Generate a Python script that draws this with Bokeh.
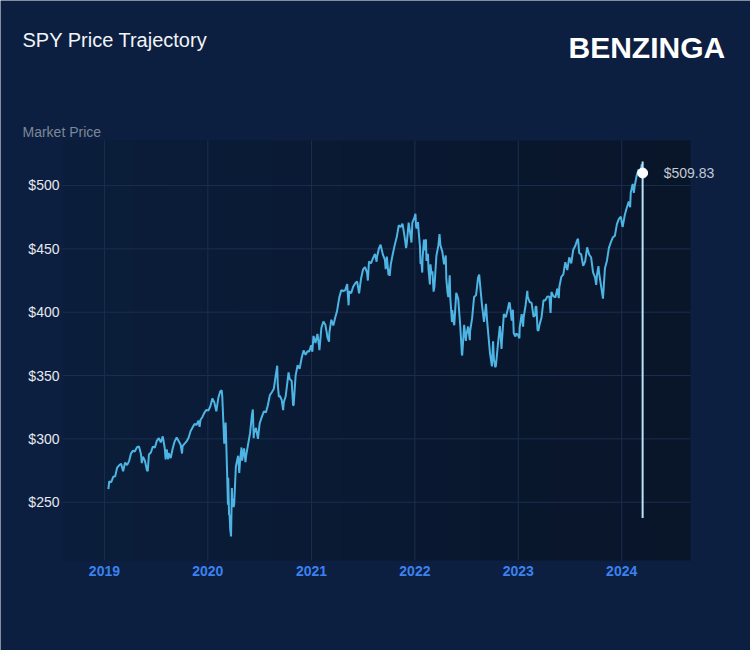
import numpy as np
import pandas as pd
from datetime import datetime
from bokeh.plotting import figure
from bokeh.models import Range1d, Label, ColumnDataSource
from bokeh.core.properties import value
from bokeh.embed import file_html
from bokeh.resources import INLINE

# ---------------- data (SPY closes) ----------------
dates_2019 = ["2019-01-15", "2019-01-18", "2019-01-25", "2019-02-01", "2019-02-08", "2019-02-15", "2019-02-22", "2019-03-01", "2019-03-08", "2019-03-15",
              "2019-03-22", "2019-03-29", "2019-04-05", "2019-04-12", "2019-04-18", "2019-04-26", "2019-05-03", "2019-05-10", "2019-05-13", "2019-05-17",
              "2019-05-24", "2019-05-31", "2019-06-03", "2019-06-07", "2019-06-14", "2019-06-21", "2019-06-28", "2019-07-05", "2019-07-12", "2019-07-19",
              "2019-07-26", "2019-08-02", "2019-08-05", "2019-08-09", "2019-08-14", "2019-08-16", "2019-08-23", "2019-08-30", "2019-09-06", "2019-09-13",
              "2019-09-20", "2019-09-27", "2019-10-02", "2019-10-04", "2019-10-11", "2019-10-18", "2019-10-25", "2019-11-01", "2019-11-08", "2019-11-15",
              "2019-11-22", "2019-11-29", "2019-12-03", "2019-12-06", "2019-12-13", "2019-12-20", "2019-12-27"]
spy_2019 = [260.35, 266.46, 265.78, 270.06, 270.47, 277.37, 279.14, 280.42, 274.46, 281.31,
            279.25, 282.48, 288.57, 290.72, 290.02, 293.41, 294.03, 288.10, 280.86, 285.84,
            282.78, 275.27, 274.57, 287.65, 289.26, 294.00, 293.00, 298.46, 300.65, 297.17,
            302.01, 292.62, 283.82, 291.62, 283.90, 288.85, 284.85, 292.45, 298.05, 301.09,
            298.28, 295.40, 288.43, 294.35, 296.28, 297.97, 300.88, 306.01, 308.94, 311.79,
            310.96, 314.31, 309.55, 314.87, 317.32, 320.73, 322.86]

dates_2020 = ["2020-01-03", "2020-01-10", "2020-01-17", "2020-01-24", "2020-01-31", "2020-02-07", "2020-02-14", "2020-02-19", "2020-02-21", "2020-02-25",
              "2020-02-28", "2020-03-04", "2020-03-06", "2020-03-09", "2020-03-12", "2020-03-13", "2020-03-16", "2020-03-18", "2020-03-20", "2020-03-23",
              "2020-03-26", "2020-03-27", "2020-04-01", "2020-04-03", "2020-04-09", "2020-04-17", "2020-04-21", "2020-04-24", "2020-04-29", "2020-05-01",
              "2020-05-08", "2020-05-13", "2020-05-15", "2020-05-22", "2020-05-29", "2020-06-05", "2020-06-08", "2020-06-11", "2020-06-12", "2020-06-19",
              "2020-06-26", "2020-07-02", "2020-07-10", "2020-07-17", "2020-07-24", "2020-07-31", "2020-08-07", "2020-08-14", "2020-08-21", "2020-08-28",
              "2020-09-02", "2020-09-04", "2020-09-08", "2020-09-11", "2020-09-18", "2020-09-23", "2020-09-25", "2020-10-02", "2020-10-09", "2020-10-12",
              "2020-10-16", "2020-10-23", "2020-10-28", "2020-10-30", "2020-11-06", "2020-11-13", "2020-11-20", "2020-11-27", "2020-12-04", "2020-12-11",
              "2020-12-18", "2020-12-24", "2020-12-31"]
spy_2020 = [322.41, 325.71, 331.95, 328.77, 321.73, 332.20, 337.60, 338.34, 333.48, 312.65,
            296.26, 312.86, 297.46, 274.23, 248.11, 269.32, 239.85, 240.00, 228.80, 222.95,
            261.20, 253.42, 246.15, 248.19, 278.20, 286.64, 273.04, 282.97, 293.21, 282.79,
            292.44, 281.60, 286.28, 295.44, 304.32, 319.34, 323.20, 300.61, 304.21, 308.64,
            300.05, 312.23, 317.59, 321.72, 320.88, 326.52, 334.57, 336.84, 339.48, 350.58,
            357.70, 342.57, 333.21, 334.06, 330.65, 322.64, 328.73, 333.84, 346.85, 352.43,
            347.29, 345.78, 326.66, 326.54, 350.16, 358.10, 355.33, 363.67, 369.85, 366.30,
            369.18, 369.00, 373.88]

dates_2021 = ["2021-01-04", "2021-01-08", "2021-01-15", "2021-01-22", "2021-01-27", "2021-01-29", "2021-02-05", "2021-02-12", "2021-02-19", "2021-02-25",
              "2021-02-26", "2021-03-04", "2021-03-05", "2021-03-12", "2021-03-19", "2021-03-26", "2021-04-01", "2021-04-09", "2021-04-16", "2021-04-23",
              "2021-04-30", "2021-05-07", "2021-05-12", "2021-05-14", "2021-05-21", "2021-05-28", "2021-06-04", "2021-06-11", "2021-06-18", "2021-06-25",
              "2021-07-02", "2021-07-09", "2021-07-16", "2021-07-19", "2021-07-23", "2021-07-30", "2021-08-06", "2021-08-13", "2021-08-19", "2021-08-20",
              "2021-08-27", "2021-09-02", "2021-09-10", "2021-09-17", "2021-09-20", "2021-09-24", "2021-09-30", "2021-10-01", "2021-10-04", "2021-10-08",
              "2021-10-15", "2021-10-22", "2021-10-29", "2021-11-05", "2021-11-12", "2021-11-18", "2021-11-19", "2021-11-26", "2021-12-01", "2021-12-03",
              "2021-12-10", "2021-12-17", "2021-12-20", "2021-12-23", "2021-12-31"]
spy_2021 = [368.79, 381.26, 375.70, 382.88, 374.41, 370.07, 387.71, 392.64, 390.03, 382.33,
            380.36, 376.70, 383.63, 394.06, 389.48, 395.98, 400.61, 411.49, 417.26, 416.74,
            417.30, 422.12, 405.41, 416.58, 414.94, 420.04, 422.60, 424.31, 414.92, 426.61,
            433.72, 435.52, 431.34, 424.97, 439.94, 438.51, 442.49, 445.92, 439.86, 443.36,
            450.25, 453.19, 445.44, 441.40, 434.04, 443.91, 429.14, 434.24, 428.64, 437.86,
            445.87, 453.12, 459.25, 468.53, 467.27, 469.73, 468.89, 458.97, 450.50, 453.42,
            470.74, 459.87, 454.98, 470.60, 474.96]

dates_2022 = ["2022-01-03", "2022-01-05", "2022-01-07", "2022-01-12", "2022-01-14", "2022-01-19", "2022-01-21", "2022-01-24", "2022-01-27", "2022-01-28",
              "2022-02-02", "2022-02-04", "2022-02-09", "2022-02-11", "2022-02-16", "2022-02-18", "2022-02-23", "2022-02-25", "2022-03-01", "2022-03-04",
              "2022-03-08", "2022-03-11", "2022-03-18", "2022-03-25", "2022-03-29", "2022-04-01", "2022-04-08", "2022-04-14", "2022-04-20", "2022-04-22",
              "2022-04-26", "2022-04-29", "2022-05-04", "2022-05-06", "2022-05-12", "2022-05-13", "2022-05-18", "2022-05-20", "2022-05-27", "2022-06-03",
              "2022-06-10", "2022-06-16", "2022-06-17", "2022-06-24", "2022-06-30", "2022-07-01", "2022-07-08", "2022-07-14", "2022-07-15", "2022-07-22",
              "2022-07-29", "2022-08-05", "2022-08-12", "2022-08-16", "2022-08-19", "2022-08-26", "2022-09-02", "2022-09-09", "2022-09-13", "2022-09-16",
              "2022-09-23", "2022-09-30", "2022-10-04", "2022-10-07", "2022-10-12", "2022-10-14", "2022-10-21", "2022-10-28", "2022-11-03", "2022-11-04",
              "2022-11-11", "2022-11-18", "2022-11-25", "2022-11-30", "2022-12-02", "2022-12-09", "2022-12-13", "2022-12-16", "2022-12-22", "2022-12-23",
              "2022-12-30"]
spy_2022 = [477.71, 468.38, 466.09, 471.02, 464.72, 451.75, 437.98, 439.84, 431.24, 441.95,
            457.35, 448.70, 457.54, 440.46, 446.10, 434.23, 421.95, 437.75, 429.98, 432.17,
            416.25, 420.07, 444.52, 452.69, 461.55, 452.92, 447.57, 437.79, 444.71, 426.04,
            416.10, 412.00, 429.06, 411.34, 392.34, 401.72, 391.86, 389.63, 415.26, 410.54,
            389.80, 366.65, 365.86, 390.08, 377.25, 381.24, 388.67, 377.91, 385.13, 395.09,
            411.99, 413.47, 427.10, 429.70, 422.14, 405.31, 392.24, 406.60, 393.10, 385.56,
            367.95, 357.18, 377.09, 362.79, 356.56, 357.63, 374.29, 389.02, 371.01, 376.35,
            398.51, 396.03, 402.33, 407.68, 406.91, 393.28, 401.97, 383.27, 380.72, 382.91,
            382.43]

dates_2023 = ["2023-01-05", "2023-01-06", "2023-01-13", "2023-01-18", "2023-01-20", "2023-01-27", "2023-02-02", "2023-02-03", "2023-02-10", "2023-02-17",
              "2023-02-24", "2023-03-02", "2023-03-03", "2023-03-06", "2023-03-10", "2023-03-13", "2023-03-17", "2023-03-24", "2023-03-31", "2023-04-06",
              "2023-04-14", "2023-04-21", "2023-04-25", "2023-04-28", "2023-05-05", "2023-05-12", "2023-05-19", "2023-05-24", "2023-05-26", "2023-06-02",
              "2023-06-09", "2023-06-16", "2023-06-23", "2023-06-30", "2023-07-07", "2023-07-14", "2023-07-21", "2023-07-28", "2023-07-31", "2023-08-04",
              "2023-08-11", "2023-08-18", "2023-08-25", "2023-09-01", "2023-09-08", "2023-09-15", "2023-09-22", "2023-09-29", "2023-10-03", "2023-10-06",
              "2023-10-11", "2023-10-13", "2023-10-20", "2023-10-27", "2023-11-03", "2023-11-10", "2023-11-17", "2023-11-24", "2023-12-01", "2023-12-08",
              "2023-12-15", "2023-12-22", "2023-12-29"]
spy_2023 = [379.38, 388.08, 398.50, 388.64, 395.88, 405.68, 416.78, 412.35, 408.04, 407.26,
            396.38, 397.81, 404.19, 404.47, 385.91, 385.36, 389.99, 395.75, 409.39, 409.19,
            412.46, 412.20, 399.44, 415.93, 412.63, 411.59, 418.62, 411.09, 420.02, 427.92,
            429.90, 439.46, 433.21, 443.28, 438.55, 449.28, 452.18, 456.92, 457.79, 446.81,
            445.65, 436.50, 439.97, 451.19, 445.52, 443.37, 431.39, 427.48, 421.59, 429.54,
            436.32, 431.50, 421.19, 410.68, 434.69, 440.61, 450.79, 455.30, 459.10, 460.20,
            469.33, 473.65, 475.31]

dates_2024 = ["2024-01-04", "2024-01-05", "2024-01-12", "2024-01-19", "2024-01-26", "2024-01-31", "2024-02-02", "2024-02-09", "2024-02-13", "2024-02-16",
              "2024-02-23", "2024-03-01", "2024-03-05", "2024-03-08", "2024-03-12", "2024-03-15"]
spy_2024 = [467.28, 467.92, 476.68, 482.43, 487.41, 482.88, 494.35, 501.20, 494.08, 499.51,
            507.85, 512.85, 507.18, 511.72, 516.78, 509.83]

year_ticks = ["2019-01-01", "2020-01-01", "2021-01-01", "2022-01-01", "2023-01-01", "2024-01-01"]
year_labels = ["2019", "2020", "2021", "2022", "2023", "2024"]
price_ticks = [250, 300, 350, 400, 450, 500]
price_labels = ["$250", "$300", "$350", "$400", "$450", "$500"]
marker_range = [237.5, 519.0]   # vertical marker line at the latest point (low, high)

title_text = "SPY Price Trajectory"
brand_text = "BENZINGA"
y_label_text = "Market Price"

# ---------------- build ----------------
all_dates = dates_2019 + dates_2020 + dates_2021 + dates_2022 + dates_2023 + dates_2024
all_prices = spy_2019 + spy_2020 + spy_2021 + spy_2022 + spy_2023 + spy_2024
n = min(len(all_dates), len(all_prices))
src = ColumnDataSource(dict(date=pd.to_datetime(all_dates[:n]), price=all_prices[:n]))

last_date = pd.to_datetime(all_dates[n - 1])
last_price = all_prices[n - 1]

BG = "#0c1f41"
GRID = "#1b2e4f"
FONT = "Liberation Sans"
W, H = 750, 650

# plot area (shaded box) in data units and its pixel box on the canvas
plot_start, plot_end = datetime(2018, 8, 6), datetime(2024, 8, 31)
y_start, y_end = 204.0, 535.5
box_left, box_right, box_top, box_bottom = 62, 690, 140, 560

# the frame covers the whole canvas; extend the ranges so the box lands where wanted
span = plot_end - plot_start
px_t = span / (box_right - box_left)
x_lo = plot_start - px_t * box_left
x_hi = plot_start + px_t * (W - box_left)
px_y = (y_end - y_start) / (box_bottom - box_top)
y_lo = y_start - px_y * (H - box_bottom)
y_hi = y_end + px_y * box_top

p = figure(width=W, height=H, x_axis_type="datetime",
           x_range=Range1d(x_lo, x_hi), y_range=Range1d(y_lo, y_hi),
           output_backend="svg", toolbar_location=None, min_border=0,
           background_fill_color=BG, border_fill_color=BG, outline_line_color=None)
p.axis.visible = False
p.grid.visible = False

# shaded plot area with a horizontal gradient (lighter left, darker right)
N = 256
img = np.empty((1, N), dtype=np.uint32)
view = img.view(dtype=np.uint8).reshape((1, N, 4))
c0 = np.array([11, 30, 59]); c1 = np.array([9, 21, 41])
t = np.linspace(0, 1, N)
for k in range(3):
    view[0, :, k] = (c0[k] + (c1[k] - c0[k]) * t).astype(np.uint8)
view[0, :, 3] = 255
x0ms = pd.Timestamp(plot_start).value // 10**6
x1ms = pd.Timestamp(plot_end).value // 10**6
p.image_rgba(image=[img], x=x0ms, y=y_start, dw=x1ms - x0ms, dh=y_end - y_start, level="image")

year_dt = pd.to_datetime(year_ticks)

# grid lines inside the plot area
p.segment(x0=year_dt, y0=[y_start] * len(year_dt), x1=year_dt, y1=[y_end] * len(year_dt),
          line_color=GRID, line_width=1, level="underlay")
p.segment(x0=[plot_start] * len(price_ticks), y0=price_ticks, x1=[plot_end] * len(price_ticks), y1=price_ticks,
          line_color=GRID, line_width=1, level="underlay")

# tick labels
p.text(x=[plot_start] * len(price_ticks), y=price_ticks, text=price_labels, x_offset=-3,
       text_font=value(FONT), text_font_size="14px", text_color="#e6e9ee",
       text_align="right", text_baseline="middle")
p.text(x=year_dt, y=[y_start] * len(year_dt), text=year_labels, y_offset=10,
       text_font=value(FONT), text_font_size="14px", text_font_style="bold", text_color="#3b82f0",
       text_align="center", text_baseline="middle")

# price line
p.line("date", "price", source=src, line_color="#4db4e4", line_width=2)

# marker at latest price
p.segment(x0=[last_date], y0=[marker_range[0]], x1=[last_date], y1=[marker_range[1]],
          line_color="#b9e6f5", line_width=2)
p.scatter(x=[last_date], y=[last_price], size=10, fill_color="white", line_color="white")
p.text(x=[last_date], y=[last_price], text=[f"${last_price:.2f}"], x_offset=21,
       text_font=value(FONT), text_font_size="14px", text_color="#c3cad4",
       text_baseline="middle", text_align="left")

# header texts (screen units: from the canvas' bottom-left corner, vertically centred)
p.add_layout(Label(x=22, y=H - 39.5, x_units="screen", y_units="screen", text=title_text,
                   text_font=FONT, text_font_size="20px", text_color="#f2f4f7",
                   text_baseline="middle"))
p.add_layout(Label(x=568, y=H - 46.5, x_units="screen", y_units="screen", text=brand_text,
                   text_font=FONT, text_font_size="30px", text_font_style="bold",
                   text_color="#ffffff", text_baseline="middle"))
p.add_layout(Label(x=22, y=H - 131, x_units="screen", y_units="screen", text=y_label_text,
                   text_font=FONT, text_font_size="14px", text_color="#7d8797",
                   text_baseline="middle"))

open("out.html", "w").write(file_html(p, INLINE))
